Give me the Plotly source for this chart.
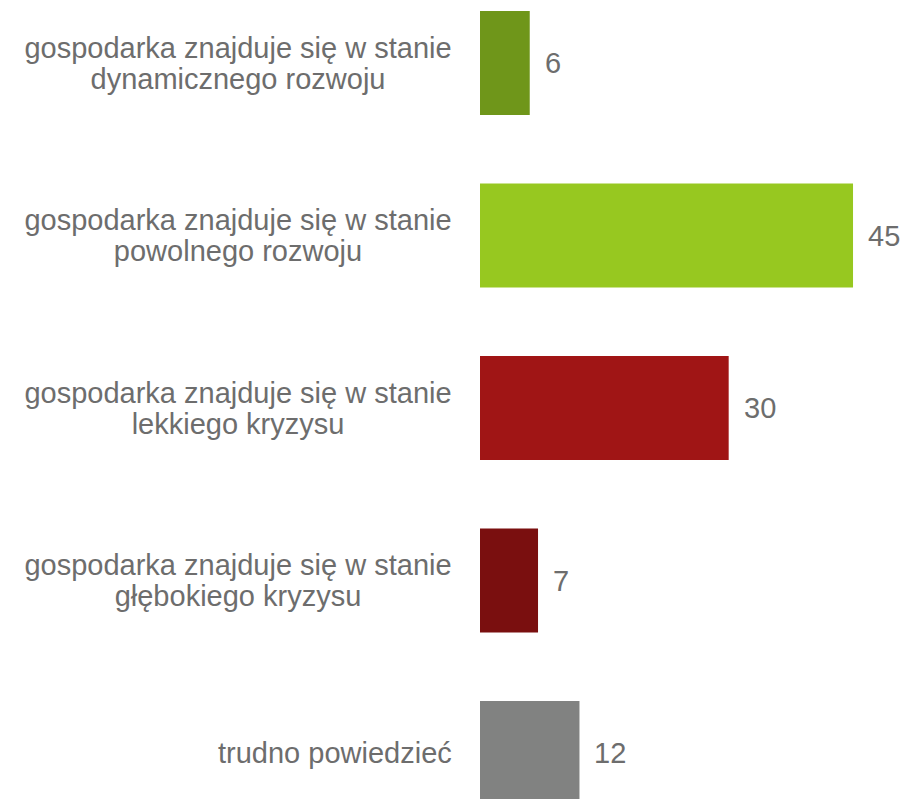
import plotly.graph_objects as go

categories = [
    "gospodarka znajduje się w stanie<br>dynamicznego rozwoju",
    "gospodarka znajduje się w stanie<br>powolnego rozwoju",
    "gospodarka znajduje się w stanie<br>lekkiego kryzysu",
    "gospodarka znajduje się w stanie<br>głębokiego kryzysu",
    "trudno powiedzieć",
]
values = [6, 45, 30, 7, 12]
colors = ["#6f961a", "#97c820", "#a01515", "#7a0f0f", "#818281"]

TEXT_COLOR = "#6d6d6d"
FONT = "Liberation Sans, Arial, sans-serif"
LABEL_SIZE = 29
LINE_GAP = 31

fig = go.Figure(
    go.Bar(
        x=values,
        y=categories,
        orientation="h",
        marker=dict(color=colors, line=dict(width=0)),
        width=0.603,
        hoverinfo="skip",
    )
)

annotations = []
for cat, val in zip(categories, values):
    lines = cat.split("<br>")
    n = len(lines)
    for i, line in enumerate(lines):
        offset = ((n - 1) / 2 - i) * LINE_GAP
        ann = dict(
            x=0, xref="paper", y=cat, yref="y",
            text=line, showarrow=False, xanchor="right", yanchor="middle",
            align="center", yshift=offset,
            font=dict(family=FONT, size=LABEL_SIZE, color=TEXT_COLOR),
        )
        if n > 1:
            ann.update(width=460, xshift=-10)
        else:
            ann.update(xshift=-26)
        annotations.append(ann)
    annotations.append(dict(
        x=val, xref="x", y=cat, yref="y",
        text=str(val), showarrow=False, xanchor="left", yanchor="middle",
        xshift=13,
        font=dict(family=FONT, size=29, color=TEXT_COLOR),
    ))

fig.update_layout(
    width=905, height=799,
    margin=dict(l=480, r=0, t=0, b=0),
    paper_bgcolor="white", plot_bgcolor="white",
    showlegend=False,
    xaxis=dict(range=[0, 51.27], visible=False, showgrid=False, zeroline=False),
    yaxis=dict(type="category", categoryorder="array", categoryarray=categories,
               range=[4.2667, -0.3652], showticklabels=False, showgrid=False,
               zeroline=False, showline=False, ticks=""),
    annotations=annotations,
    hovermode=False,
)

fig.write_html(
    "out.html",
    config={"displayModeBar": False, "staticPlot": True},
    post_script="document.body.style.margin='0';document.body.style.overflow='hidden';",
)
